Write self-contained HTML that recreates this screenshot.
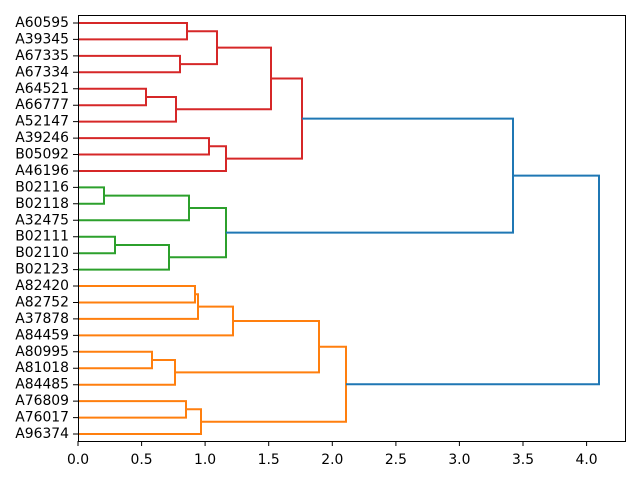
<!DOCTYPE html>
<html><head><meta charset="utf-8"><style>body{margin:0;background:#fff}svg{display:block}</style></head><body>
<svg width="640" height="480" xmlns="http://www.w3.org/2000/svg" font-family="DejaVu Sans, Liberation Sans, sans-serif" font-size="13.9">
<rect width="640" height="480" fill="#fff"/>
<g fill="none" stroke-width="2">
<g stroke="#d62728">
<path d="M78,23H187V39.4H78"/>
<path d="M78,55.9H180V72.3H78"/>
<path d="M187,31.2H217V64.1H180"/>
<path d="M78,88.8H146V105.2H78"/>
<path d="M146,97H176V121.6H78"/>
<path d="M217,47.6H271V109.3H176"/>
<path d="M78,138.1H209V154.5H78"/>
<path d="M209,146.3H226V171H78"/>
<path d="M271,78.5H302V158.6H226"/>
</g>
<g stroke="#2ca02c">
<path d="M78,187.4H104V203.8H78"/>
<path d="M104,195.6H189V220.3H78"/>
<path d="M78,236.7H115V253.2H78"/>
<path d="M115,245H169V269.6H78"/>
<path d="M189,208H226V257.3H169"/>
</g>
<g stroke="#ff7f0e">
<path d="M78,286H195V302.5H78"/>
<path d="M195,294.3H198V318.9H78"/>
<path d="M198,306.6H233V335.4H78"/>
<path d="M78,351.8H152V368.2H78"/>
<path d="M152,360H175V384.7H78"/>
<path d="M233,321H319V372.4H175"/>
<path d="M78,401.1H186V417.6H78"/>
<path d="M186,409.3H201V434H78"/>
<path d="M319,346.7H346V421.7H201"/>
</g>
<g stroke="#1f77b4">
<path d="M302,118.6H513V232.6H226"/>
<path d="M513,175.6H599V384.2H346"/>
</g>
</g>
<rect x="78.5" y="15.5" width="547" height="426" fill="none" stroke="#000" stroke-width="1"/>
<g stroke="#000" stroke-width="1">
<path d="M78,441v5M141.6,441v5M205.1,441v5M268.7,441v5M332.3,441v5M395.9,441v5M459.4,441v5M523,441v5M586.6,441v5"/>
<path d="M73,23h5M73,39.4h5M73,55.9h5M73,72.3h5M73,88.8h5M73,105.2h5M73,121.6h5M73,138.1h5M73,154.5h5M73,171h5M73,187.4h5M73,203.8h5M73,220.3h5M73,236.7h5M73,253.2h5M73,269.6h5M73,286h5M73,302.5h5M73,318.9h5M73,335.4h5M73,351.8h5M73,368.2h5M73,384.7h5M73,401.1h5M73,417.6h5M73,434h5"/>
</g>
<g text-anchor="middle" fill="#000">
<text x="78" y="464">0.0</text><text x="141.6" y="464">0.5</text><text x="205.1" y="464">1.0</text><text x="268.7" y="464">1.5</text><text x="332.3" y="464">2.0</text><text x="395.9" y="464">2.5</text><text x="459.4" y="464">3.0</text><text x="523" y="464">3.5</text><text x="586.6" y="464">4.0</text>
</g>
<g text-anchor="end" fill="#000" dominant-baseline="central">
<text x="69" y="23">A60595</text><text x="69" y="39.4">A39345</text><text x="69" y="55.9">A67335</text><text x="69" y="72.3">A67334</text><text x="69" y="88.8">A64521</text><text x="69" y="105.2">A66777</text><text x="69" y="121.6">A52147</text><text x="69" y="138.1">A39246</text><text x="69" y="154.5">B05092</text><text x="69" y="171">A46196</text><text x="69" y="187.4">B02116</text><text x="69" y="203.8">B02118</text><text x="69" y="220.3">A32475</text><text x="69" y="236.7">B02111</text><text x="69" y="253.2">B02110</text><text x="69" y="269.6">B02123</text><text x="69" y="286">A82420</text><text x="69" y="302.5">A82752</text><text x="69" y="318.9">A37878</text><text x="69" y="335.4">A84459</text><text x="69" y="351.8">A80995</text><text x="69" y="368.2">A81018</text><text x="69" y="384.7">A84485</text><text x="69" y="401.1">A76809</text><text x="69" y="417.6">A76017</text><text x="69" y="434">A96374</text>
</g>
</svg>
</body></html>
